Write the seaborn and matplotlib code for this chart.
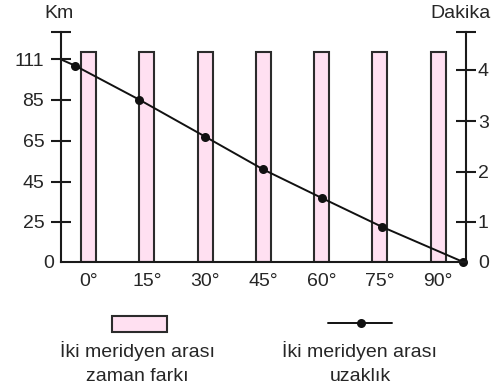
import numpy as np
import pandas as pd
import matplotlib
matplotlib.use("Agg")
import matplotlib.pyplot as plt
from matplotlib.patches import Rectangle
from matplotlib.lines import Line2D
import seaborn as sns

sns.set_style("white")
plt.rcParams['font.family'] = ['Liberation Sans', 'DejaVu Sans']
FS = 14
plt.rcParams['font.size'] = FS

# ---- data ----
bar_lon = [0, 15, 30, 45, 60, 75, 90]
bar_labels = ['0°', '15°', '30°', '45°', '60°', '75°', '90°']
bar_minutes = [4.35, 4.35, 4.35, 4.35, 4.35, 4.35, 4.35]

line_lon = [-7.1, -3.5, 13, 30, 45, 60, 75.5, 96.5]
line_km = [111, 107, 85, 67, 51, 37, 22, 0]

km_ticks = [0, 25, 45, 65, 85, 111]
km_tick_labels = ['0', '25', '45', '65', '85', '111']
min_ticks = [0, 1, 2, 3, 4]
min_tick_labels = ['0', '1', '2', '3', '4']

# schematic (non-uniform) axis spacing of the drawing
km_knots = [0, 25, 45, 65, 85, 111, 137]
km_pos = [0, 38, 76, 115, 154, 192, 218]
min_knots = [0, 1, 2, 3, 4, 5]
min_pos = [0, 40, 90, 141, 192, 243]
top_pos = 230

def km_fwd(v):
    return np.interp(v, km_knots, km_pos)

def km_inv(v):
    return np.interp(v, km_pos, km_knots)

def min_fwd(v):
    return np.interp(v, min_knots, min_pos)

def min_inv(v):
    return np.interp(v, min_pos, min_knots)

W, H = 503, 386
fig = plt.figure(figsize=(W / 100, H / 100), dpi=100)
ax = fig.add_axes([61 / W, 1 - 262 / H, (466 - 61) / W, (262 - 32) / H])
ax2 = ax.twinx()

ax.set_yscale('function', functions=(km_fwd, km_inv))
ax2.set_yscale('function', functions=(min_fwd, min_inv))

bars_df = pd.DataFrame({'lon': bar_lon, 'min': bar_minutes})
line_df = pd.DataFrame({'lon': line_lon, 'km': line_km})

sns.barplot(data=bars_df, x='lon', y='min', native_scale=True, width=0.2577,
            color='#FFE0F1', saturation=1, edgecolor='#2b2b2b', linewidth=1.5,
            ax=ax2)
sns.lineplot(data=line_df, x='lon', y='km', color='#111111', linewidth=1.4,
             marker='o', markersize=6.5, markevery=list(range(1, len(line_lon))),
             markeredgewidth=0, clip_on=False, ax=ax)

ax.set_zorder(ax2.get_zorder() + 1)
ax.patch.set_visible(False)

xl = (-7.08, 97.2)
ax.set_xlim(*xl)
ax2.set_xlim(*xl)
ax.set_ylim(0, km_inv(top_pos))
ax2.set_ylim(0, min_inv(top_pos))

for a in (ax, ax2):
    a.set_xlabel('')
    a.set_ylabel('')
    a.spines['top'].set_visible(False)
ax.spines['right'].set_visible(False)
for s in ('left', 'bottom'):
    ax2.spines[s].set_visible(False)
for s in ('left', 'bottom'):
    ax.spines[s].set_linewidth(1.5)
    ax.spines[s].set_color('#1a1a1a')
ax2.spines['right'].set_linewidth(1.5)
ax2.spines['right'].set_color('#1a1a1a')

# left axis: the origin label sits closer to the axis and has no tick mark
ax.set_yticks(km_ticks[1:] + [km_inv(top_pos)])
ax.set_yticklabels(km_tick_labels[1:] + [''])
ax.tick_params(axis='y', direction='inout', length=14, width=1.5,
               color='#1a1a1a', pad=5.0, labelsize=FS, left=True)
ax.annotate(km_tick_labels[0], xy=(0, km_ticks[0]),
            xycoords=ax.get_yaxis_transform(), xytext=(-5, 0),
            textcoords='offset points', ha='right', va='center_baseline',
            fontsize=FS)

ax2.set_yticks(min_ticks + [min_inv(top_pos)])
ax2.set_yticklabels(min_tick_labels + [''])
ax2.tick_params(axis='y', direction='inout', length=14, width=1.5,
                color='#1a1a1a', pad=1.5, labelsize=FS, right=True)
ax2.yaxis.get_major_ticks()[0].tick2line.set_visible(False)

ax.set_xticks(bar_lon)
ax.set_xticklabels(bar_labels)
ax.tick_params(axis='x', length=0, pad=8, labelsize=FS)

fig.text(59 / W, 1 - 18 / H, 'Km', ha='center', va='baseline', fontsize=FS)
fig.text(460 / W, 1 - 18 / H, 'Dakika', ha='center', va='baseline', fontsize=FS)

# legend
fig.patches.append(Rectangle((112 / W, 1 - 332 / H), 55 / W, 16 / H,
                             transform=fig.transFigure, facecolor='#FFE0F1',
                             edgecolor='#2b2b2b', linewidth=1.5))
fig.lines.append(Line2D([328 / W, 392 / W], [1 - 323 / H, 1 - 323 / H],
                        transform=fig.transFigure, color='#111111', linewidth=1.4))
fig.lines.append(Line2D([361 / W], [1 - 323 / H], transform=fig.transFigure,
                        color='#111111', marker='o', markersize=6.5,
                        markeredgewidth=0))
fig.text(137 / W, 1 - 357 / H, 'İki meridyen arası', ha='center', va='baseline', fontsize=FS)
fig.text(137 / W, 1 - 381 / H, 'zaman farkı', ha='center', va='baseline', fontsize=FS)
fig.text(360 / W, 1 - 357 / H, 'İki meridyen arası', ha='center', va='baseline', fontsize=FS)
fig.text(360 / W, 1 - 381 / H, 'uzaklık', ha='center', va='baseline', fontsize=FS)

fig.savefig('out.png', dpi=100)
